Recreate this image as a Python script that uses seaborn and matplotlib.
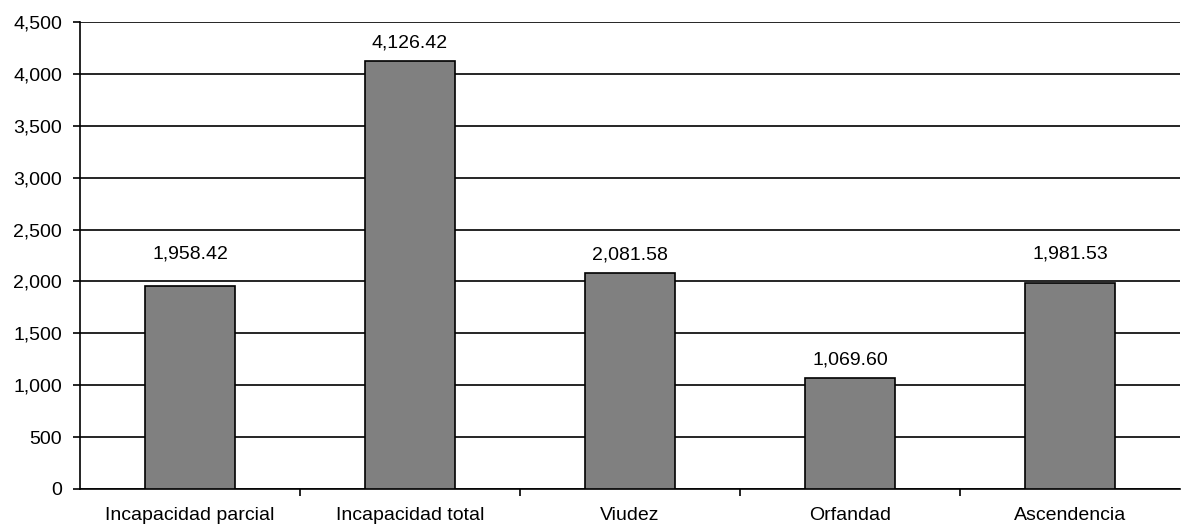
import matplotlib
matplotlib.use("Agg")
import matplotlib.pyplot as plt
import seaborn as sns
import pandas as pd
from matplotlib.ticker import FuncFormatter, FixedLocator

sns.set_style("white")
plt.rcParams['font.family'] = ['Liberation Sans', 'DejaVu Sans']
plt.rcParams['text.color'] = 'black'
plt.rcParams['xtick.color'] = 'black'
plt.rcParams['ytick.color'] = 'black'

categories = ["Incapacidad parcial", "Incapacidad total", "Viudez", "Orfandad", "Ascendencia"]
values = [1958.42, 4126.42, 2081.58, 1069.60, 1981.53]

df = pd.DataFrame({"tipo": categories, "monto": values})

fig = plt.figure(figsize=(11.9, 5.25), dpi=100)
ax = fig.add_axes([0.0672, 0.0686, 0.9244, 0.8894])

sns.barplot(data=df, x="tipo", y="monto", color="#808080", saturation=1,
            edgecolor="black", linewidth=1.2, width=0.41, ax=ax, zorder=3)

ax.set_ylim(0, 4500)
ax.set_xlim(-0.5, len(categories) - 0.5)
ax.set_yticks(range(0, 4501, 500))
ax.yaxis.set_major_formatter(FuncFormatter(lambda v, p: f"{int(v):,}"))
ax.grid(axis="y", color="black", linewidth=1.2, zorder=0)
ax.set_axisbelow(True)

# ticks between categories
ax.set_xticks(range(len(categories)))
ax.set_xticklabels(categories)
ax.xaxis.set_minor_locator(FixedLocator([i + 0.5 for i in range(len(categories) - 1)]))
ax.tick_params(axis="x", which="major", length=0, labelsize=14, pad=13, labelcolor="black")
ax.tick_params(axis="x", which="minor", length=5, width=1.2, color="black", direction="out", bottom=True)
ax.tick_params(axis="y", length=5, width=1.2, color="black", direction="out", left=True,
               labelsize=14, pad=8, labelcolor="black")

for s in ["top", "right"]:
    ax.spines[s].set_visible(False)
for s in ["left", "bottom"]:
    ax.spines[s].set_color("black")
    ax.spines[s].set_linewidth(1.2)

# value labels; pushed above a gridline when the bar ends just under it
for i, v in enumerate(values):
    grid_above = (int(v // 500) + 1) * 500
    if grid_above - v < 100:
        anchor, off = grid_above, 16.5
    else:
        anchor, off = v, 9.5
    ax.annotate(f"{v:,.2f}", (i, anchor), xytext=(0, off), textcoords="offset points",
                ha="center", va="baseline", fontsize=14, color="black")

ax.set_xlabel("")
ax.set_ylabel("")
fig.savefig("out.png", dpi=100)
